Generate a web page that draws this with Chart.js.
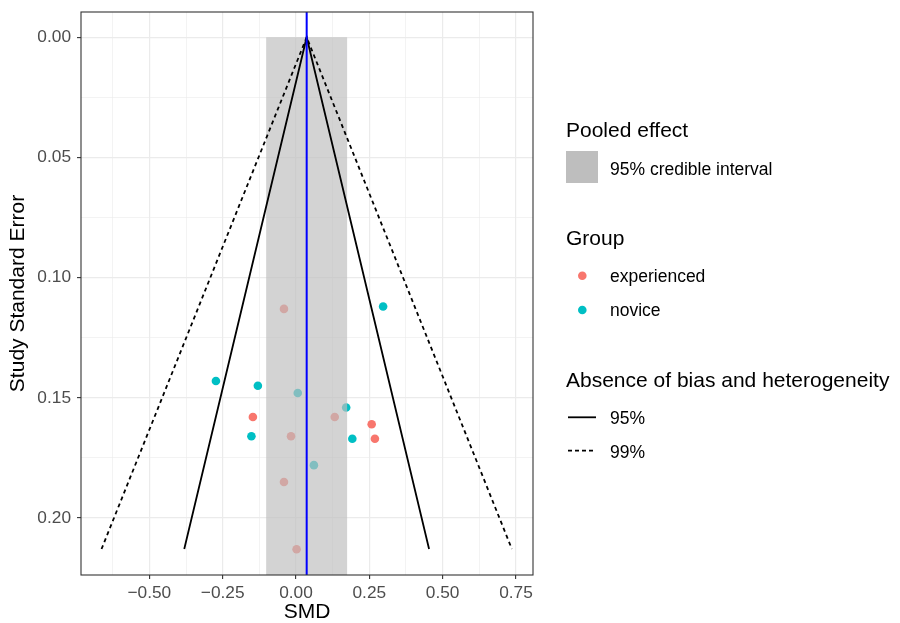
<!DOCTYPE html>
<html>
<head>
<meta charset="utf-8">
<title>Funnel plot</title>
<script src="https://cdn.jsdelivr.net/npm/chart.js@4.4.1/dist/chart.umd.min.js"></script>
<style>
  html, body { margin: 0; padding: 0; background: #ffffff; }
  #wrap { position: relative; width: 900px; height: 623px; }
</style>
</head>
<body>
<div id="wrap"><canvas id="funnelChart" width="900" height="623"></canvas></div>
<script>
// Study estimates (SMD) and their standard errors, per group
const experiencedSMD = [-0.041, -0.147, 0.132, 0.258, -0.017, 0.269, -0.041, 0.002];
const experiencedSE  = [0.113, 0.158, 0.158, 0.161, 0.166, 0.167, 0.185, 0.213];
const noviceSMD = [0.297, -0.273, -0.130, 0.006, 0.171, -0.152, 0.192, 0.061];
const noviceSE  = [0.112, 0.143, 0.145, 0.148, 0.154, 0.166, 0.167, 0.178];

// Pooled effect and its 95% credible interval
const pooledSMD = 0.0364;
const credibleInterval = [-0.102, 0.175];

// Funnel limits: left end, apex, right end
const funnelSE = [0.2129, 0, 0.2129];
const funnel95 = [-0.381, 0.0364, 0.4537];
const funnel99 = [-0.663, 0.0364, 0.736];

// Axis ranges and labelled ticks
const xRange = [-0.733, 0.808];
const yRange = [-0.0105, 0.2237];
const xTickLabels = [-0.5, -0.25, 0, 0.25, 0.5, 0.75];
const yTickLabels = [0, 0.05, 0.1, 0.15, 0.2];

const FONT = '"Liberation Sans", Arial, sans-serif';
const RED = '#F8766D';
const CYAN = '#00BFC4';

function toPoints(xs, ys) {
    return xs.map((x, i) => ({ x: x, y: ys[i] }));
}

function isLabelled(value, list) {
    return list.some(v => Math.abs(v - value) < 1e-9);
}

function fmt(v) {
    const s = Math.abs(v).toFixed(2);
    return v < -1e-9 ? '\u2212' + s : s;
}

// panel border + legend on the right
const decorations = {
    id: 'decorations',
    afterDraw(chart) {
        const c = chart.ctx;
        const a = chart.chartArea;
        c.save();
        c.strokeStyle = '#333333';
        c.lineWidth = 1.1;
        c.strokeRect(a.left, a.top, a.right - a.left, a.bottom - a.top);

        c.fillStyle = '#000000';
        c.textBaseline = 'alphabetic';
        c.textAlign = 'left';

        // Pooled effect
        c.font = '21px ' + FONT;
        c.fillText('Pooled effect', 566, 137);
        c.fillStyle = '#bebebe';
        c.fillRect(566, 151, 32, 32);
        c.fillStyle = '#000000';
        c.font = '17.5px ' + FONT;
        c.fillText('95% credible interval', 610, 174.5);

        // Group
        c.font = '21px ' + FONT;
        c.fillText('Group', 566, 245);
        c.font = '17.5px ' + FONT;
        [[RED, 'experienced', 275.7], [CYAN, 'novice', 310]].forEach(([col, label, y]) => {
            c.fillStyle = col;
            c.beginPath();
            c.arc(582.3, y, 4.3, 0, Math.PI * 2);
            c.fill();
            c.fillStyle = '#000000';
            c.fillText(label, 610, y + 6.2);
        });

        // Absence of bias and heterogeneity
        c.font = '21px ' + FONT;
        c.fillText('Absence of bias and heterogeneity', 566, 386.7);
        c.font = '17.5px ' + FONT;
        c.strokeStyle = '#000000';
        c.lineWidth = 1.8;
        c.beginPath();
        c.moveTo(568, 417.3);
        c.lineTo(596, 417.3);
        c.stroke();
        c.fillText('95%', 610, 424);
        c.setLineDash([4, 3]);
        c.beginPath();
        c.moveTo(568, 450.7);
        c.lineTo(596, 450.7);
        c.stroke();
        c.setLineDash([]);
        c.fillText('99%', 610, 457.5);
        c.restore();
    }
};

document.addEventListener('DOMContentLoaded', function() {
    const ctx = document.getElementById('funnelChart').getContext('2d');

    new Chart(ctx, {
        type: 'scatter',
        data: {
            datasets: [
                {
                    label: 'experienced',
                    data: toPoints(experiencedSMD, experiencedSE),
                    backgroundColor: RED,
                    borderWidth: 0,
                    pointRadius: 4.3,
                    order: 6
                },
                {
                    label: 'novice',
                    data: toPoints(noviceSMD, noviceSE),
                    backgroundColor: CYAN,
                    borderWidth: 0,
                    pointRadius: 4.3,
                    order: 5
                },
                {
                    // credible interval band, from SE = 0 down to the bottom of the panel
                    type: 'line',
                    label: '95% credible interval',
                    data: credibleInterval.map(x => ({ x: x, y: 0 })),
                    borderWidth: 0,
                    borderColor: 'rgba(0,0,0,0)',
                    backgroundColor: 'rgba(190,190,190,0.68)',
                    fill: 'start',
                    pointRadius: 0,
                    order: 4
                },
                {
                    type: 'line',
                    label: '99%',
                    data: toPoints(funnel99, funnelSE),
                    borderColor: '#000000',
                    borderWidth: 1.8,
                    borderDash: [4, 3.5],
                    fill: false,
                    pointRadius: 0,
                    tension: 0,
                    order: 3
                },
                {
                    type: 'line',
                    label: '95%',
                    data: toPoints(funnel95, funnelSE),
                    borderColor: '#000000',
                    borderWidth: 1.8,
                    fill: false,
                    pointRadius: 0,
                    tension: 0,
                    order: 2
                },
                {
                    type: 'line',
                    label: 'pooled',
                    data: yRange.map(y => ({ x: pooledSMD, y: y })),
                    borderColor: '#0000ff',
                    borderWidth: 2,
                    fill: false,
                    pointRadius: 0,
                    order: 1
                }
            ]
        },
        options: {
            responsive: false,
            animation: false,
            devicePixelRatio: 1,
            events: [],
            layout: { padding: { top: 12, right: 367, left: 0, bottom: 0 } },
            plugins: {
                legend: { display: false },
                tooltip: { enabled: false }
            },
            scales: {
                x: {
                    type: 'linear',
                    min: xRange[0],
                    max: xRange[1],
                    afterFit: s => {
                        s.height = 48;
                        s.paddingLeft = 0;
                        s.paddingRight = 0;
                    },
                    border: { display: false },
                    grid: {
                        color: '#ebebeb',
                        lineWidth: c => isLabelled(c.tick.value, xTickLabels) ? 1.2 : 0.6,
                        tickColor: c => isLabelled(c.tick.value, xTickLabels) ? '#333333' : 'rgba(0,0,0,0)',
                        tickWidth: 1.1,
                        tickLength: 4
                    },
                    ticks: {
                        stepSize: 0.125,
                        includeBounds: false,
                        autoSkip: false,
                        maxRotation: 0,
                        padding: 3.5,
                        color: '#4d4d4d',
                        font: { family: FONT, size: 17.3 },
                        callback: v => isLabelled(v, xTickLabels) ? fmt(v) : ''
                    },
                    title: {
                        display: true,
                        text: 'SMD',
                        color: '#000000',
                        font: { family: FONT, size: 21, lineHeight: 1 },
                        padding: 0
                    }
                },
                y: {
                    type: 'linear',
                    reverse: true,
                    min: yRange[0],
                    max: yRange[1],
                    afterFit: s => {
                        s.width = 81;
                        s.paddingTop = 0;
                        s.paddingBottom = 0;
                    },
                    border: { display: false },
                    grid: {
                        color: '#ebebeb',
                        lineWidth: c => isLabelled(c.tick.value, yTickLabels) ? 1.2 : 0.6,
                        tickColor: c => isLabelled(c.tick.value, yTickLabels) ? '#333333' : 'rgba(0,0,0,0)',
                        tickWidth: 1.1,
                        tickLength: 4
                    },
                    ticks: {
                        stepSize: 0.025,
                        includeBounds: false,
                        autoSkip: false,
                        padding: 6,
                        color: '#4d4d4d',
                        font: { family: FONT, size: 17.3 },
                        callback: v => isLabelled(v, yTickLabels) ? fmt(v) : ''
                    },
                    title: {
                        display: true,
                        text: 'Study Standard Error',
                        color: '#000000',
                        font: { family: FONT, size: 21, lineHeight: 1 },
                        padding: { top: 7.5, bottom: 0 }
                    }
                }
            }
        },
        plugins: [decorations]
    });
});
</script>
</body>
</html>
